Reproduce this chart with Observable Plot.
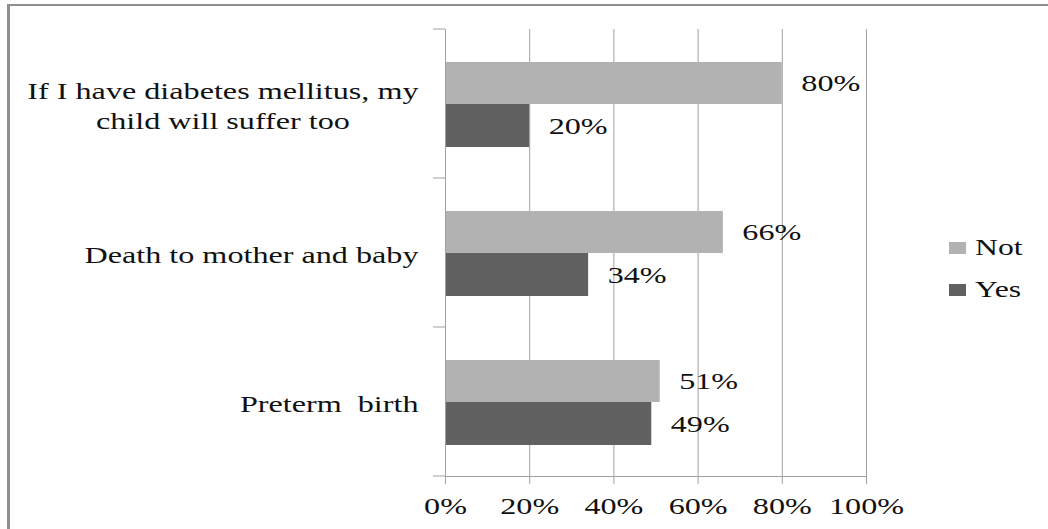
<!DOCTYPE html>
<html><head><meta charset="utf-8">
<script src="https://cdn.jsdelivr.net/npm/d3@7"></script>
<script src="https://cdn.jsdelivr.net/npm/@observablehq/plot@0.6"></script>
<style>
body{margin:0;background:#fff;}
#wrap{position:relative;width:1048px;height:529px;overflow:hidden;font-family:'Liberation Serif','Times New Roman','DejaVu Serif',serif;}
#chart{position:absolute;left:0;top:0;}
#frame{position:absolute;left:7px;top:4px;right:-10px;bottom:-10px;border-left:3px solid #8e8e8e;border-top:2px solid #8e8e8e;pointer-events:none;}
.leg{position:absolute;left:949px;height:24px;font-size:24px;line-height:24px;color:#111;}
.leg .sw{position:absolute;left:0;top:7px;width:17px;height:12px;}
.leg .lb{position:absolute;left:26px;top:0;white-space:nowrap;transform:scaleX(1.32);transform-origin:0 0;}
svg text{font-family:'Liberation Serif','Times New Roman','DejaVu Serif',serif;}
</style></head><body>
<div id="wrap"><div id="chart"></div><div id="frame"></div><div id="legend"></div></div>
<script>
const categories = ["If I have diabetes mellitus, my\nchild will suffer too", "Death to mother and baby", "Preterm  birth"];
const seriesNames = ["Not", "Yes"];
const notValues = [0.80, 0.66, 0.51];
const yesValues = [0.20, 0.34, 0.49];
const xTicks = [0, 0.2, 0.4, 0.6, 0.8, 1.0];
const seriesColors = ["#b2b2b2", "#616161"];
const legendTops = [235, 277];

const rows = categories.flatMap((c, i) => [
  {category: c, series: "Not", value: notValues[i]},
  {category: c, series: "Yes", value: yesValues[i]}
]);
const notRows = rows.filter(d => d.series === "Not");
const yesRows = rows.filter(d => d.series === "Yes");
const pct = d3.format(".0%");
const grey = "#a0a0a0";
const serif = "'Liberation Serif', 'Times New Roman', 'DejaVu Serif', serif";

const plot = Plot.plot({
  width: 1048, height: 529,
  marginLeft: 445, marginRight: 182, marginTop: 29, marginBottom: 53,
  style: {fontFamily: serif, fontSize: "24px", color: "#111", background: "transparent", overflow: "visible"},
  x: {domain: [0, 1]},
  y: {domain: categories, padding: 0},
  color: {domain: seriesNames, range: seriesColors},
  marks: [
    Plot.gridX(xTicks, {stroke: grey, strokeOpacity: 1}),
    Plot.barX(notRows, {x: "value", y: "category", fill: "series", insetTop: 33, insetBottom: 74}),
    Plot.barX(yesRows, {x: "value", y: "category", fill: "series", insetTop: 75, insetBottom: 31}),
    Plot.ruleX([0], {stroke: grey}),
    Plot.frame({anchor: "bottom", stroke: grey}),
    Plot.axisX(xTicks, {tickFormat: pct, tickSize: 8, tickPadding: 12, stroke: grey, fill: "#111", label: null, fontFamily: serif, fontSize: 24}),
    Plot.axisY({tickSize: 0, tickPadding: 27, label: null, fill: "#111", lineHeight: 1.25, fontFamily: serif, fontSize: 24}),
    Plot.text(notRows, {x: "value", y: "category", text: d => pct(d.value), textAnchor: "start", dx: 19, dy: -21, fill: "#111", fontFamily: serif, fontSize: 24}),
    Plot.text(yesRows, {x: "value", y: "category", text: d => pct(d.value), textAnchor: "start", dx: 19, dy: 22, fill: "#111", fontFamily: serif, fontSize: 24})
  ]
});

document.getElementById("chart").append(plot);

// category boundary ticks on the y axis, from the library's scales
const ys = plot.scale("y");
const xs = plot.scale("x");
const x0 = xs.apply(0);
const bounds = Array.from(new Set(categories.flatMap(c => [ys.apply(c), ys.apply(c) + ys.bandwidth])));
d3.select(plot).append("g").attr("stroke", grey)
  .selectAll("line").data(bounds).join("line")
  .attr("x1", x0 - 12).attr("x2", x0).attr("y1", d => d).attr("y2", d => d);

// horizontally stretched serif text like the original
const SX = 1.34;
plot.querySelectorAll("text").forEach(t => {
  t.style.whiteSpace = "pre";
  const spans = t.querySelectorAll("tspan");
  if (spans.length) {
    let W = 0;
    spans.forEach(s => {
      const w = s.getComputedTextLength() * SX;
      s.setAttribute("textLength", w);
      s.setAttribute("lengthAdjust", "spacingAndGlyphs");
      W = Math.max(W, w);
    });
    if (spans.length > 1) {
      t.setAttribute("text-anchor", "middle");
      spans.forEach(s => s.setAttribute("x", -W / 2));
    }
  } else {
    const w = t.getComputedTextLength() * SX;
    t.setAttribute("textLength", w);
    t.setAttribute("lengthAdjust", "spacingAndGlyphs");
  }
});

// legend
const legend = document.getElementById("legend");
seriesNames.forEach((s, i) => {
  const row = document.createElement("div");
  row.className = "leg";
  row.style.top = legendTops[i] + "px";
  row.innerHTML = `<span class="sw" style="background:${seriesColors[i]}"></span><span class="lb">${s}</span>`;
  legend.append(row);
});
</script>
</body></html>
